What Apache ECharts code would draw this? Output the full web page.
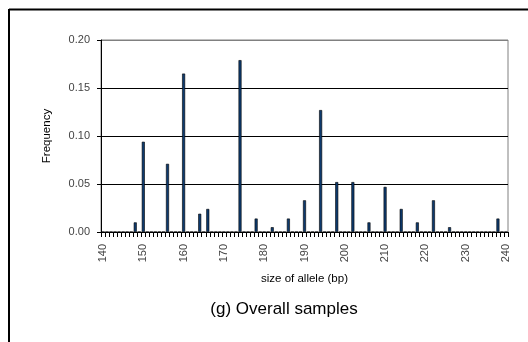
<!DOCTYPE html>
<html><head><meta charset="utf-8">
<script src="https://cdn.jsdelivr.net/npm/echarts@6/dist/echarts.min.js"></script>
<style>html,body{margin:0;padding:0;background:#fff}#c{width:528px;height:342px}</style>
</head><body><div id="c"></div>
<script>
// allele sizes (bp) that have a nonzero frequency, and their frequencies
const alleleSizes = [148, 150, 156, 160, 164, 166, 174, 178, 182, 186, 190, 194, 198, 202, 206, 210, 214, 218, 222, 226, 238];
const frequencies = [0.010, 0.094, 0.071, 0.165, 0.019, 0.024, 0.179, 0.014, 0.005, 0.014, 0.033, 0.127, 0.052, 0.052, 0.010, 0.047, 0.024, 0.010, 0.033, 0.005, 0.014];
const axisMinSize = 140, axisMaxSize = 240;
const yTicks = [0, 0.05, 0.10, 0.15, 0.20];

const categories = [];
for (let s = axisMinSize; s <= axisMaxSize; s++) categories.push(String(s));
const values = categories.map(c => {
  const i = alleleSizes.indexOf(Number(c));
  return i >= 0 ? frequencies[i] : 0;
});

const FONT = 'Liberation Sans, Arial, sans-serif';
const chart = echarts.init(document.getElementById('c'), null, {renderer: 'canvas'});
chart.setOption({
  animation: false,
  backgroundColor: '#fff',
  textStyle: {fontFamily: FONT},
  title: {
    text: '(g) Overall samples',
    left: 279, top: 296, textAlign: 'center',
    textStyle: {fontSize: 17, fontWeight: 'normal', color: '#000', fontFamily: FONT}
  },
  grid: {left: 101, right: 20, top: 40, bottom: 110, show: true, borderColor: '#808080', borderWidth: 1, containLabel: false},
  xAxis: {
    type: 'category', data: categories, boundaryGap: true,
    name: 'size of allele (bp)', nameLocation: 'middle', nameGap: 41,
    nameTextStyle: {fontSize: 11.5, color: '#000'},
    axisLine: {lineStyle: {color: '#000', width: 1}},
    axisTick: {show: true, interval: 0, length: 5, inside: false, lineStyle: {color: '#000'}},
    axisLabel: {interval: 9, rotate: 90, fontSize: 11, color: '#444', margin: 12},
    splitLine: {show: false}
  },
  yAxis: {
    type: 'value', min: yTicks[0], max: yTicks[yTicks.length - 1], interval: 0.05,
    name: 'Frequency', nameLocation: 'middle', nameGap: 48,
    nameTextStyle: {fontSize: 11.5, color: '#000'},
    axisLine: {show: true, lineStyle: {color: '#000'}},
    axisTick: {show: true, length: 4, lineStyle: {color: '#000'}},
    axisLabel: {formatter: v => v.toFixed(2), fontSize: 11, color: '#444', margin: 11},
    splitLine: {show: true, lineStyle: {color: ['#000', '#000', '#000', '#000', '#808080'], width: 1}}
  },
  series: [{
    type: 'bar', data: values, barWidth: 3,
    itemStyle: {color: '#0d3a6e', borderColor: '#000', borderWidth: 0.6}
  }],
  graphic: [
    {type: 'line', shape: {x1: 9, y1: 9.5, x2: 528, y2: 9.5}, style: {stroke: '#000', lineWidth: 2}},
    {type: 'line', shape: {x1: 9, y1: 9, x2: 9, y2: 342}, style: {stroke: '#000', lineWidth: 2}}
  ]
});
</script></body></html>
